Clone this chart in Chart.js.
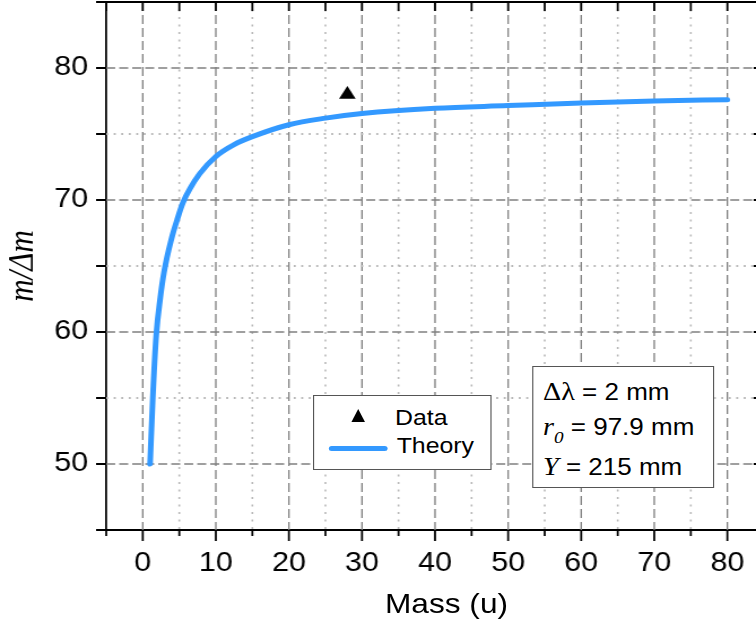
<!DOCTYPE html>
<html>
<head>
<meta charset="utf-8">
<script src="https://cdn.jsdelivr.net/npm/chart.js@4"></script>
<style>
    html, body { margin: 0; padding: 0; overflow: hidden; background: #fff; }
    /* the whole figure is a little wider than tall in the original, so stretch it */
    #stage { position: absolute; left: 0; top: 0; width: 682px; height: 626px; transform: scaleX(1.13); transform-origin: 0 0; }
    #chartBox { position: absolute; left: 0; top: 0; width: 682px; height: 626px; }
    .box { position: absolute; box-sizing: border-box; border: 1px solid #555; background: #fff; }
    .txt { position: absolute; font: 22px 'Liberation Sans', Arial, sans-serif; line-height: 22px; white-space: nowrap; color: #000; }
    .note { font-size: 23px; line-height: 23px; }
    .serif { font-family: 'Liberation Serif', 'Times New Roman', serif; font-size: 25px; }
    .it { font-style: italic; }
    .txt sub { font-size: 17px; line-height: 0; vertical-align: -8px; }
    #xTitle { font-size: 28px; line-height: 28px; }
</style>
</head>
<body>
<div id="stage">
    <div id="chartBox"><canvas id="massChart"></canvas></div>
    <div class="txt" id="xTitle" style="left:340.7px; top:589.5px;">Mass (u)</div>
    <div class="box" style="left:276.7px; top:395px; width:158.4px; height:75px;"></div>
    <div id="legend"></div>
    <div class="box" style="left:470.5px; top:366px; width:161.3px; height:122px;"></div>
    <div class="txt note" style="left:480.5px; top:380px;"><span class="serif">Δλ</span> = 2 mm</div>
    <div class="txt note" style="left:480.5px; top:414.5px;"><span class="serif it">r<sub>0</sub></span> = 97.9 mm</div>
    <div class="txt note" style="left:480.5px; top:455px;"><span class="serif it">Y</span> = 215 mm</div>
</div>
<script>
// Measured point
const massData = [28];
const resolutionData = [78];

// Theory curve
const massTheory = [1, 1.37, 1.85, 2.4, 2.9, 3.9, 4.7, 5.5, 6.5, 7.8, 10, 12.5, 15, 20, 25, 30, 40, 50, 60, 70, 80];
const resolutionTheory = [50, 55, 59.8, 62.6, 64.5, 67, 68.5, 69.8, 70.9, 72, 73.3, 74.2, 74.8, 75.7, 76.2, 76.55, 76.95, 77.15, 77.35, 77.5, 77.6];

// Tick labels
const xTickLabels = [0, 10, 20, 30, 40, 50, 60, 70, 80];
const yTickLabels = [50, 60, 70, 80];

const SX = 1.13; // horizontal stretch of #stage
const FONT = "'Liberation Sans', Arial, sans-serif";

// Dashed major / dotted minor grid plus Origin-style tick marks
const gridAndTicks = {
    id: 'gridAndTicks',
    beforeDatasetsDraw(chart) {
        const { ctx, chartArea: a, scales: { x, y } } = chart;
        ctx.save();
        ctx.beginPath();
        ctx.rect(a.left, a.top, a.right - a.left, a.bottom - a.top);
        ctx.clip();
        x.ticks.forEach(t => {
            if (t.value <= x.min || t.value >= x.max) return;
            const major = t.value % 10 === 0;
            const px = x.getPixelForValue(t.value);
            ctx.strokeStyle = major ? '#808080' : '#b8b8b8';
            ctx.lineWidth = major ? 1.5 / SX : 1.8 / SX;
            ctx.setLineDash(major ? [9, 4] : [2, 5.5]);
            ctx.beginPath();
            ctx.moveTo(px, a.top);
            ctx.lineTo(px, a.bottom);
            ctx.stroke();
        });
        y.ticks.forEach(t => {
            if (t.value <= y.min || t.value >= y.max) return;
            const major = t.value % 10 === 0;
            const py = y.getPixelForValue(t.value);
            ctx.strokeStyle = major ? '#808080' : '#b8b8b8';
            ctx.lineWidth = major ? 1.5 : 1.8;
            ctx.setLineDash(major ? [9 / SX, 4 / SX] : [2 / SX, 5.5 / SX]);
            ctx.beginPath();
            ctx.moveTo(a.left, py);
            ctx.lineTo(a.right, py);
            ctx.stroke();
        });
        ctx.restore();
    },
    afterDatasetsDraw(chart) {
        const { ctx, chartArea: a, scales: { x, y } } = chart;
        ctx.save();
        ctx.strokeStyle = '#000';
        ctx.setLineDash([]);
        // top frame line
        ctx.lineWidth = 2;
        ctx.beginPath();
        ctx.moveTo(a.left, a.top);
        ctx.lineTo(a.right, a.top);
        ctx.stroke();
        ctx.lineWidth = 2 / SX;
        x.ticks.forEach(t => {
            const px = x.getPixelForValue(t.value);
            const len = t.value % 10 === 0 ? 11 : 6;
            ctx.beginPath();
            ctx.moveTo(px, a.bottom);
            ctx.lineTo(px, a.bottom + len);
            ctx.moveTo(px, a.top);
            ctx.lineTo(px, a.top + 9);
            ctx.stroke();
        });
        ctx.lineWidth = 2;
        y.ticks.forEach(t => {
            const py = y.getPixelForValue(t.value);
            ctx.beginPath();
            ctx.moveTo(a.left - 9, py);
            ctx.lineTo(a.left, py);
            ctx.moveTo(a.right - 9, py);
            ctx.lineTo(a.right, py);
            ctx.stroke();
        });
        ctx.restore();
    }
};

const ctx = document.getElementById('massChart').getContext('2d');
const massChart = new Chart(ctx, {
    type: 'scatter',
    data: {
        datasets: [{
            label: 'Data',
            data: massData.map((m, i) => ({ x: m, y: resolutionData[i] })),
            pointStyle: 'triangle',
            pointRadius: 8.5,
            backgroundColor: '#000',
            borderColor: '#000',
            borderWidth: 0,
            showLine: false
        }, {
            label: 'Theory',
            data: massTheory.map((m, i) => ({ x: m, y: resolutionTheory[i] })),
            showLine: true,
            borderColor: '#3399ff',
            borderWidth: 5,
            borderCapStyle: 'round',
            pointRadius: 0,
            cubicInterpolationMode: 'monotone'
        }]
    },
    options: {
        responsive: true,
        maintainAspectRatio: false,
        animation: false,
        layout: { autoPadding: false, padding: { top: 2, right: 6, left: 0, bottom: 0 } },
        plugins: { legend: { display: false }, tooltip: { enabled: false } },
        scales: {
            x: {
                type: 'linear',
                min: -5,
                max: 85,
                afterFit: s => { s.height = 96; s.paddingLeft = 0; s.paddingRight = 0; },
                grid: { display: false, drawTicks: true, tickLength: 11 },
                border: { display: true, color: '#000', width: 2 },
                ticks: {
                    stepSize: 5,
                    autoSkip: false,
                    maxRotation: 0,
                    padding: 6,
                    color: '#000',
                    font: { family: FONT, size: 27 },
                    callback: v => xTickLabels.includes(v) ? String(v) : ''
                },
                title: { display: false }
            },
            y: {
                type: 'linear',
                min: 45,
                max: 85,
                afterFit: s => { s.width = 94; s.paddingTop = 0; s.paddingBottom = 0; },
                grid: { display: false, drawTicks: true, tickLength: 9 },
                border: { display: true, color: '#000', width: 2 / SX },
                ticks: {
                    stepSize: 5,
                    autoSkip: false,
                    padding: 7,
                    color: '#000',
                    font: { family: FONT, size: 27 },
                    callback: v => yTickLabels.includes(v) ? String(v) : ''
                },
                title: {
                    display: true,
                    text: 'm/Δm',
                    color: '#000',
                    font: { family: "'Liberation Serif', 'Times New Roman', serif", size: 31, style: 'italic' },
                    padding: { top: 2, bottom: 0 }
                }
            }
        }
    },
    plugins: [gridAndTicks]
});

// Legend box built from the dataset labels
const legendRows = [
    { top: 407, markerTop: 409, textLeft: 349.6 },
    { top: 435, markerTop: 445.5, textLeft: 351 }
];
const legend = document.getElementById('legend');
massChart.data.datasets.forEach((ds, i) => {
    const row = legendRows[i];
    const marker = document.createElement('div');
    marker.style.position = 'absolute';
    if (ds.showLine) {
        marker.style.cssText += `left:291.2px; top:${row.markerTop}px; width:52.2px; height:5px; border-radius:2.5px; background:${ds.borderColor};`;
    } else {
        marker.style.cssText += `left:311px; top:${row.markerTop}px; width:0; height:0; border-left:6.65px solid transparent; border-right:6.65px solid transparent; border-bottom:13.5px solid ${ds.backgroundColor};`;
    }
    legend.appendChild(marker);
    const label = document.createElement('div');
    label.className = 'txt';
    label.style.left = row.textLeft + 'px';
    label.style.top = row.top + 'px';
    label.textContent = ds.label;
    legend.appendChild(label);
});
</script>
</body>
</html>
